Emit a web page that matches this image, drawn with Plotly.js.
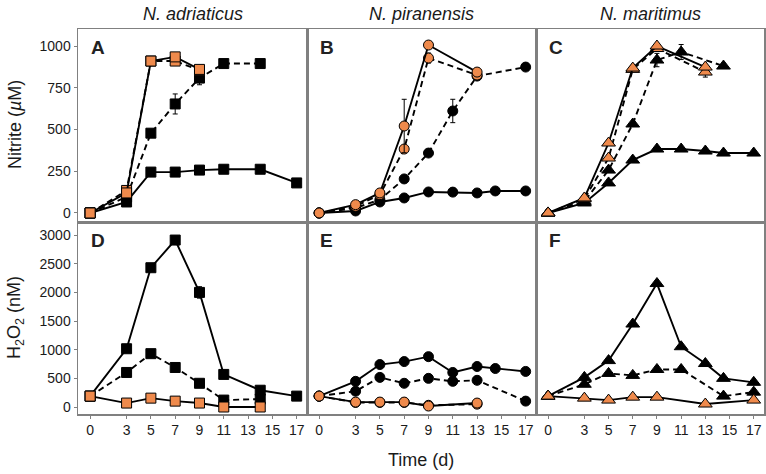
<!DOCTYPE html>
<html>
<head>
<meta charset="utf-8">
<script src="https://cdn.plot.ly/plotly-3.0.1.min.js"></script>
<style>
  html, body { margin: 0; padding: 0; background: #fff; }
  #chart { width: 766px; height: 474px; }
</style>
</head>
<body>
<div id="chart"></div>
<script>
// tick labels
const dayTicks = [0, 3, 5, 7, 9, 11, 13, 15, 17];
const nitriteTicks = [0, 250, 500, 750, 1000];
const h2o2Ticks = [0, 500, 1000, 1500, 2000, 2500, 3000];
const speciesNames = ['N. adriaticus', 'N. piranensis', 'N. maritimus'];
const panelLetters = ['A', 'B', 'C', 'D', 'E', 'F'];

// Panel A - N. adriaticus nitrite (uM)
const aSolidDays = [0, 3, 5, 7, 9, 11, 14, 17];
const aSolid = [0, 66, 245, 245, 257, 262, 262, 180];
const aDashDays = [0, 3, 5, 7, 9, 11, 14];
const aDash = [0, 96, 478, 653, 808, 895, 895];
const aDashErr = [0, 5, 15, 60, 40, 0, 0];
const aOrangeDays = [0, 3, 5, 7, 9];
const aOrangeSolid = [0, 120, 910, 935, 860];
const aOrangeDash = [0, 135, 910, 910, 855];

// Panel B - N. piranensis nitrite
const bSolidDays = [0, 3, 5, 7, 9, 11, 13, 14.5, 17];
const bSolid = [0, 12, 66, 90, 126, 125, 120, 132, 132];
const bDashDays = [0, 3, 5, 7, 9, 11, 13, 17];
const bDash = [0, 30, 80, 204, 359, 611, 820, 874];
const bDashErr = [0, 0, 0, 0, 0, 70, 0, 0];
const bOrangeDays = [0, 3, 5, 7, 9, 13];
const bOrangeSolid = [0, 50, 120, 521, 1006, 844];
const bOrangeSolidErr = [0, 15, 0, 160, 0, 0];
const bOrangeDash = [0, 40, 110, 383, 928, 826];
const bOrangeDashErr = [0, 0, 0, 0, 30, 0];

// Panel C - N. maritimus nitrite
const cSolidDays = [0, 3, 5, 7, 9, 11, 13, 14.5, 17];
const cSolid = [0, 60, 180, 317, 383, 383, 371, 359, 359];
const cDashDays = [0, 3, 5, 7, 9, 11, 14.5];
const cDash = [0, 70, 257, 533, 916, 964, 880];
const cDashErr = [0, 0, 0, 0, 40, 45, 0];
const cOrangeDays = [0, 3, 5, 7, 9, 13];
const cOrangeSolid = [0, 90, 419, 868, 1000, 874];
const cOrangeDash = [0, 85, 329, 860, 985, 844];
const cOrangeDashErr = [0, 0, 0, 0, 0, 30];

// Panel D - N. adriaticus H2O2 (nM)
const dSolidDays = [0, 3, 5, 7, 9, 11, 14, 17];
const dSolid = [190, 1017, 2431, 2914, 2000, 569, 293, 190];
const dSolidErr = [0, 0, 0, 0, 100, 0, 0, 0];
const dDashDays = [0, 3, 5, 7, 9, 11, 14];
const dDash = [190, 603, 931, 690, 414, 121, 138];
const dOrangeDays = [0, 3, 5, 7, 9, 11, 14];
const dOrange = [190, 69, 155, 103, 69, 0, 0];

// Panel E - N. piranensis H2O2
const eSolidDays = [0, 3, 5, 7, 9, 11, 13, 14.5, 17];
const eSolid = [190, 448, 741, 793, 879, 603, 707, 672, 621];
const eDashDays = [0, 3, 5, 7, 9, 11, 13, 17];
const eDash = [190, 276, 517, 414, 500, 448, 466, 103];
const eOrangeDays = [0, 3, 5, 7, 9, 13];
const eOrangeSolid = [190, 86, 86, 86, 17, 69];
const eOrangeDash = [190, 80, 80, 80, 30, 50];

// Panel F - N. maritimus H2O2
const fSolidDays = [0, 3, 5, 7, 9, 11, 13, 14.5, 17];
const fSolid = [190, 517, 810, 1448, 2155, 1052, 759, 500, 431];
const fDashDays = [0, 3, 5, 7, 9, 11, 14.5, 17];
const fDash = [190, 397, 586, 552, 655, 655, 190, 259];
const fOrangeDays = [0, 3, 5, 7, 9, 13, 17];
const fOrange = [190, 155, 121, 172, 172, 52, 121];

const ORANGE = '#ef8a4c';
const FONT = 'Liberation Sans, Arial, sans-serif';

function series(xs, ys, errs, panel, symbol, fill, dash) {
    const suffix = panel > 1 ? String(panel) : '';
    const t = {
        x: xs,
        y: ys,
        xaxis: 'x' + suffix,
        yaxis: 'y' + suffix,
        type: 'scatter',
        mode: 'lines+markers',
        showlegend: false,
        cliponaxis: false,
        line: { color: '#000', width: 1.9, dash: dash ? '6px,4px' : 'solid' },
        marker: {
            symbol: symbol,
            size: symbol === 'triangle-up' ? 12 : 10,
            color: fill,
            line: { color: '#000', width: 1 }
        }
    };
    if (errs) {
        t.error_y = { type: 'data', array: errs, visible: true, color: '#000', thickness: 1, width: 2.5 };
    }
    return t;
}

const traces = [
    // A
    series(aSolidDays, aSolid, null, 1, 'square', '#000', false),
    series(aDashDays, aDash, aDashErr, 1, 'square', '#000', true),
    series(aOrangeDays, aOrangeDash, null, 1, 'square', ORANGE, true),
    series(aOrangeDays, aOrangeSolid, null, 1, 'square', ORANGE, false),
    // B
    series(bSolidDays, bSolid, null, 2, 'circle', '#000', false),
    series(bDashDays, bDash, bDashErr, 2, 'circle', '#000', true),
    series(bOrangeDays, bOrangeDash, bOrangeDashErr, 2, 'circle', ORANGE, true),
    series(bOrangeDays, bOrangeSolid, bOrangeSolidErr, 2, 'circle', ORANGE, false),
    // C
    series(cSolidDays, cSolid, null, 3, 'triangle-up', '#000', false),
    series(cDashDays, cDash, cDashErr, 3, 'triangle-up', '#000', true),
    series(cOrangeDays, cOrangeDash, cOrangeDashErr, 3, 'triangle-up', ORANGE, true),
    series(cOrangeDays, cOrangeSolid, null, 3, 'triangle-up', ORANGE, false),
    // D
    series(dSolidDays, dSolid, dSolidErr, 4, 'square', '#000', false),
    series(dDashDays, dDash, null, 4, 'square', '#000', true),
    series(dOrangeDays, dOrange, null, 4, 'square', ORANGE, false),
    // E
    series(eSolidDays, eSolid, null, 5, 'circle', '#000', false),
    series(eDashDays, eDash, null, 5, 'circle', '#000', true),
    series(eOrangeDays, eOrangeDash, null, 5, 'circle', ORANGE, true),
    series(eOrangeDays, eOrangeSolid, null, 5, 'circle', ORANGE, false),
    // F
    series(fSolidDays, fSolid, null, 6, 'triangle-up', '#000', false),
    series(fDashDays, fDash, null, 6, 'triangle-up', '#000', true),
    series(fOrangeDays, fOrange, null, 6, 'triangle-up', ORANGE, false)
];

const W = 766, H = 474;
const colEdges = [78, 307, 536, 764];
const rowEdges = [29, 222, 414];
const yRanges = [[-54, 1102], [-122, 3229]];
const yTicks = [nitriteTicks, h2o2Ticks];

const layout = {
    width: W,
    height: H,
    margin: { l: 0, r: 0, t: 0, b: 0 },
    paper_bgcolor: '#fff',
    plot_bgcolor: '#fff',
    font: { family: FONT, size: 14, color: '#1a1a1a' },
    annotations: []
};

for (let r = 0; r < 2; r++) {
    for (let c = 0; c < 3; c++) {
        const idx = r * 3 + c + 1;
        const suffix = idx > 1 ? String(idx) : '';
        const xd = [colEdges[c] / W, colEdges[c + 1] / W];
        const yd = [1 - rowEdges[r + 1] / H, 1 - rowEdges[r] / H];
        layout['xaxis' + suffix] = {
            domain: xd,
            anchor: 'y' + suffix,
            range: [-1, 17.85],
            tickmode: 'array',
            tickvals: dayTicks,
            showticklabels: r === 1,
            ticks: r === 1 ? 'outside' : '',
            ticklen: 3,
            tickcolor: '#808080',
            tickfont: { size: 14, color: '#1a1a1a' },
            showline: true,
            mirror: true,
            linecolor: '#808080',
            linewidth: 1.5,
            showgrid: false,
            zeroline: false
        };
        layout['yaxis' + suffix] = {
            domain: yd,
            anchor: 'x' + suffix,
            range: yRanges[r],
            tickmode: 'array',
            tickvals: yTicks[r],
            showticklabels: c === 0,
            ticks: c === 0 ? 'outside' : '',
            ticklen: 3,
            tickcolor: '#808080',
            tickfont: { size: 14, color: '#1a1a1a' },
            showline: true,
            mirror: true,
            linecolor: '#808080',
            linewidth: 1.5,
            showgrid: false,
            zeroline: false
        };
        layout.annotations.push({
            text: '<b>' + panelLetters[idx - 1] + '</b>',
            xref: 'paper', yref: 'paper',
            x: (colEdges[c] + 11) / W,
            y: 1 - (rowEdges[r] + 18) / H,
            xanchor: 'left', yanchor: 'middle',
            showarrow: false,
            font: { family: FONT, size: 19, color: '#222' }
        });
    }
}

speciesNames.forEach((name, c) => {
    layout.annotations.push({
        text: '<i>' + name + '</i>',
        xref: 'paper', yref: 'paper',
        x: (colEdges[c] + colEdges[c + 1]) / 2 / W,
        y: 1 - 14 / H,
        xanchor: 'center', yanchor: 'middle',
        showarrow: false,
        font: { family: FONT, size: 18, color: '#1a1a1a' }
    });
});

layout.annotations.push({
    text: 'Nitrite (<i>µ</i>M)',
    xref: 'paper', yref: 'paper',
    x: 15 / W, y: 1 - 125 / H,
    xanchor: 'center', yanchor: 'middle',
    textangle: -90, showarrow: false,
    font: { family: FONT, size: 18, color: '#1a1a1a' }
});
layout.annotations.push({
    text: 'H<sub>2</sub>O<sub>2</sub> (nM)',
    xref: 'paper', yref: 'paper',
    x: 15 / W, y: 1 - 318 / H,
    xanchor: 'center', yanchor: 'middle',
    textangle: -90, showarrow: false,
    font: { family: FONT, size: 18, color: '#1a1a1a' }
});
layout.annotations.push({
    text: 'Time (d)',
    xref: 'paper', yref: 'paper',
    x: 421 / W, y: 1 - 460 / H,
    xanchor: 'center', yanchor: 'middle',
    showarrow: false,
    font: { family: FONT, size: 18, color: '#1a1a1a' }
});

Plotly.newPlot('chart', traces, layout, { displayModeBar: false, staticPlot: true });
</script>
</body>
</html>
